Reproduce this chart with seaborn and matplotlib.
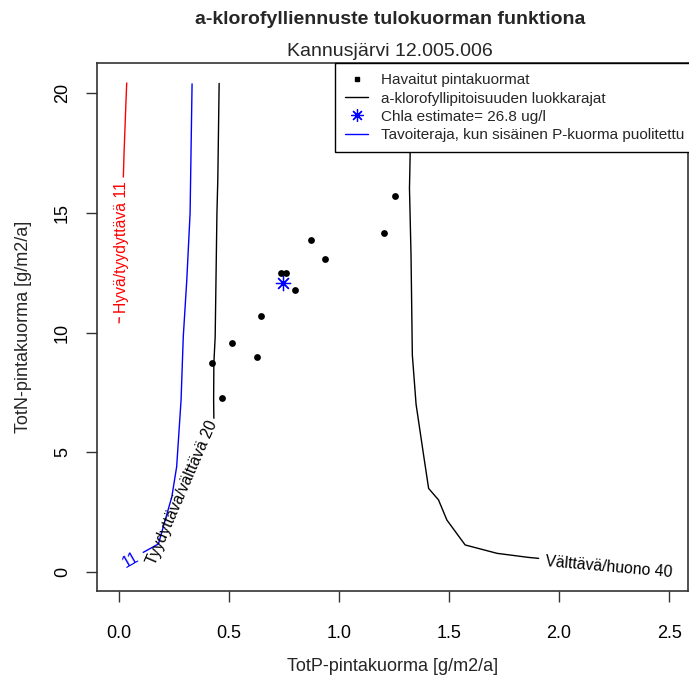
import matplotlib
matplotlib.use("Agg")
import matplotlib.pyplot as plt
import seaborn as sns
import pandas as pd
from matplotlib.lines import Line2D

# ---- texts ----
title = "a-klorofylliennuste tulokuorman funktiona"
subtitle = "Kannusjärvi 12.005.006"
xlabel = "TotP-pintakuorma [g/m2/a]"
ylabel = "TotN-pintakuorma [g/m2/a]"
legend_labels = ["Havaitut pintakuormat",
                 "a-klorofyllipitoisuuden luokkarajat",
                 "Chla estimate= 26.8 ug/l",
                 "Tavoiteraja, kun sisäinen P-kuorma puolitettu"]
x_ticks = [0.0, 0.5, 1.0, 1.5, 2.0, 2.5]
y_ticks = [0, 5, 10, 15, 20]

# ---- observed loads ----
obs_totp = [1.254, 1.206, 0.872, 0.938, 0.735, 0.758, 0.802, 0.647, 0.514, 0.626, 0.424, 0.467]
obs_totn = [15.71, 14.17, 13.85, 13.06, 12.47, 12.47, 11.76, 10.69, 9.57, 8.99, 8.71, 7.25]

# ---- estimate ----
est_totp = [0.747]
est_totn = [12.08]

# ---- class boundary contours ----
c11_x = [0.035, 0.031, 0.027, 0.023, 0.0196]
c11_y = [20.42, 19.5, 18.5, 17.5, 16.49]
c11_tail_x = [0.001, 0.0]
c11_tail_y = [10.62, 10.40]
c11_label = "Hyvä/tyydyttävä 11"

c20_x = [0.455, 0.449, 0.445, 0.437, 0.431, 0.430, 0.431]
c20_y = [20.40, 16.40, 14.98, 9.82, 8.71, 7.18, 6.42]
c20_label = "Tyydyttävä/välttävä 20"

c40_x = [1.318, 1.323, 1.320, 1.327, 1.331, 1.333, 1.350, 1.384, 1.407, 1.452, 1.490, 1.573, 1.718, 1.861, 1.907]
c40_y = [20.40, 17.41, 16.02, 13.24, 10.45, 9.06, 7.00, 4.89, 3.49, 3.01, 2.17, 1.13, 0.78, 0.61, 0.57]
c40_label = "Välttävä/huono 40"

# ---- target contour (internal P load halved) ----
t11_x = [0.332, 0.323, 0.308, 0.292, 0.282, 0.262, 0.240, 0.179, 0.110]
t11_y = [20.38, 14.98, 12.19, 9.82, 7.18, 4.40, 3.14, 1.17, 0.82]
t11_label = "11"

sns.set_style("ticks")
plt.rcParams['font.family'] = ['Liberation Sans', 'DejaVu Sans']

fig = plt.figure(figsize=(6.89, 6.84), dpi=100)
ax = fig.add_axes([96.7 / 689, 1 - 590.7 / 684, (688.5 - 96.7) / 689, (590.7 - 63.3) / 684])

lw = 1.0
sns.lineplot(x=c11_x, y=c11_y, sort=False, estimator=None, color="red", lw=lw, ax=ax)
sns.lineplot(x=c11_tail_x, y=c11_tail_y, sort=False, estimator=None, color="red", lw=lw, ax=ax)
sns.lineplot(x=c20_x, y=c20_y, sort=False, estimator=None, color="black", lw=lw, ax=ax)
sns.lineplot(x=c40_x, y=c40_y, sort=False, estimator=None, color="black", lw=lw, ax=ax)
sns.lineplot(x=t11_x, y=t11_y, sort=False, estimator=None, color="blue", lw=lw, ax=ax)

sns.scatterplot(x=obs_totp, y=obs_totn, color="black", s=24, edgecolor="black", linewidth=0, ax=ax, zorder=3)
ax.plot(est_totp, est_totn, linestyle="none", marker=(8, 2, 0), markersize=11,
        markeredgecolor="blue", markeredgewidth=0.9, zorder=4)

lab_fs = 11.3
ax.text(0.012, 13.55, c11_label, color="red", rotation=90, ha="center", va="center",
        rotation_mode="anchor", fontsize=lab_fs)
ax.text(0.287, 3.32, c20_label, color="black", rotation=66.5, ha="center", va="center",
        rotation_mode="anchor", fontsize=lab_fs)
ax.text(2.228, 0.21, c40_label, color="black", rotation=-5, ha="center", va="center",
        rotation_mode="anchor", fontsize=lab_fs)
ax.text(0.052, 0.52, t11_label, color="blue", rotation=30, ha="center", va="center",
        rotation_mode="anchor", fontsize=lab_fs)

ax.set_xlim(-0.1014, 2.588)
ax.set_ylim(-0.78, 21.24)
ax.set_xticks(x_ticks)
ax.set_xticklabels([f"{v:.1f}" for v in x_ticks])
ax.set_yticks(y_ticks)
ax.set_yticklabels([str(v) for v in y_ticks], rotation=90, va="center")
ax.tick_params(axis="both", direction="out", length=8, width=1, color="#333333",
               labelsize=13, labelcolor="black")
ax.tick_params(axis="x", pad=17)
ax.tick_params(axis="y", pad=10.5)
for sp in ax.spines.values():
    sp.set_visible(True)
    sp.set_color("#333333")
    sp.set_linewidth(1.2)

ax.set_xlabel(xlabel, fontsize=13, labelpad=11)
ax.set_ylabel(ylabel, fontsize=13, labelpad=16)

handles = [
    Line2D([], [], linestyle="none", marker="s", markersize=3.5, color="black"),
    Line2D([], [], color="black", lw=1),
    Line2D([], [], linestyle="none", marker=(8, 2, 0), markersize=9, markeredgecolor="blue", markeredgewidth=0.9),
    Line2D([], [], color="blue", lw=1),
]
leg = ax.legend(handles, legend_labels, loc="upper right", bbox_to_anchor=(1.0101, 1),
                borderaxespad=0, fontsize=11, frameon=True, fancybox=False,
                edgecolor="black", framealpha=1, borderpad=0.65, labelspacing=0.28,
                handlelength=1.5, handletextpad=0.85)
leg.get_frame().set_linewidth(1.0)

fig.text(390 / 689, 1 - 19 / 684, title, ha="center", va="center", fontsize=14, fontweight="bold")
fig.text(390 / 689, 1 - 51 / 684, subtitle, ha="center", va="center", fontsize=14)

fig.savefig("out.png", dpi=100)
